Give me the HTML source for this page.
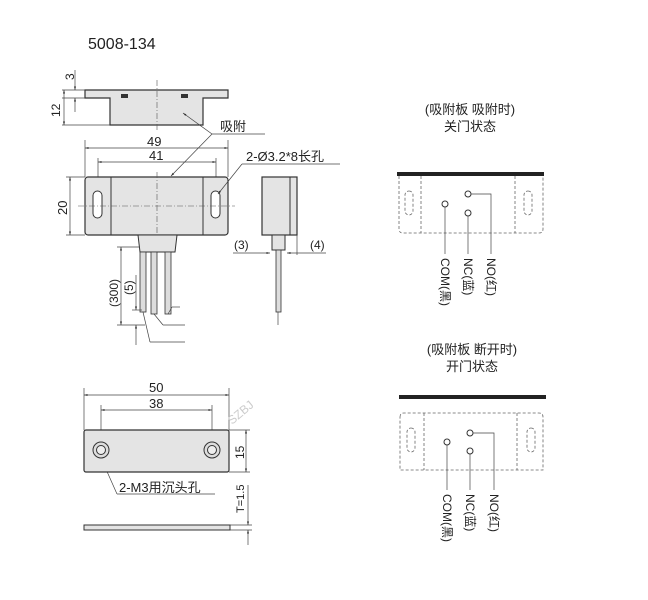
<!DOCTYPE html>
<html><head><meta charset="utf-8"><style>
html,body{margin:0;padding:0;background:#fff;}
svg{display:block;}
text{font-family:"Liberation Sans","Noto Sans CJK SC",sans-serif;fill:#222;}
</style></head><body>
<svg width="648" height="600" viewBox="0 0 648 600" xmlns="http://www.w3.org/2000/svg">
<defs>
<marker id="a" viewBox="0 0 10 10" refX="10" refY="5" markerWidth="7" markerHeight="5" orient="auto-start-reverse"><path d="M0,2 L10,5 L0,8 z" fill="#333"/></marker>
</defs>
<text x="88" y="49" font-size="16">5008-134</text>

<!-- top view -->
<path d="M85,90 H228 V98 H203 V125 H110 V98 H85 Z" fill="#e4e4e4" stroke="#333" stroke-width="1.2"/>
<rect x="121" y="94" width="7" height="4" fill="#333"/>
<rect x="181" y="94" width="7" height="4" fill="#333"/>
<line x1="157" y1="80" x2="157" y2="130" stroke="#555" stroke-width="0.6" stroke-dasharray="6,2,1,2"/>
<g stroke="#444" stroke-width="0.7" fill="none">
<line x1="62" y1="90" x2="85" y2="90"/><line x1="62" y1="98" x2="85" y2="98"/><line x1="62" y1="125" x2="110" y2="125"/>
<line x1="75" y1="70" x2="75" y2="90" marker-end="url(#a)"/><line x1="75" y1="112" x2="75" y2="98" marker-end="url(#a)"/>
<line x1="64" y1="90" x2="64" y2="125" marker-start="url(#a)" marker-end="url(#a)"/>
</g>
<text x="0" y="0" font-size="12" transform="translate(74,80) rotate(-90)">3</text>
<text x="0" y="0" font-size="12" transform="translate(60,117) rotate(-90)">12</text>
<g stroke="#444" stroke-width="0.7" fill="none">
<line x1="212" y1="134" x2="183" y2="113" marker-end="url(#a)"/>
<line x1="212" y1="134" x2="171" y2="176" marker-end="url(#a)"/>
<line x1="212" y1="134" x2="265" y2="134"/>
</g>
<text x="220" y="131" font-size="13">吸附</text>

<!-- front view -->
<g stroke="#444" stroke-width="0.7" fill="none">
<line x1="85" y1="140" x2="85" y2="177"/><line x1="228" y1="140" x2="228" y2="177"/>
<line x1="98" y1="158" x2="98" y2="192"/><line x1="216" y1="158" x2="216" y2="192"/>
<line x1="85" y1="148" x2="228" y2="148" marker-start="url(#a)" marker-end="url(#a)"/>
<line x1="98" y1="162" x2="216" y2="162" marker-start="url(#a)" marker-end="url(#a)"/>
<line x1="66" y1="177" x2="85" y2="177"/><line x1="66" y1="235" x2="85" y2="235"/>
<line x1="70" y1="177" x2="70" y2="235" marker-start="url(#a)" marker-end="url(#a)"/>
</g>
<text x="147" y="146" font-size="13">49</text>
<text x="149" y="160" font-size="13">41</text>
<text x="0" y="0" font-size="13" transform="translate(67,215) rotate(-90)">20</text>
<rect x="85" y="177" width="143" height="58" rx="3" fill="#e4e4e4" stroke="#333" stroke-width="1.2"/>
<line x1="111" y1="177" x2="111" y2="235" stroke="#333"/><line x1="203" y1="177" x2="203" y2="235" stroke="#333"/>
<rect x="93" y="191" width="9" height="27" rx="4.5" fill="#fff" stroke="#333"/>
<rect x="211" y="191" width="9" height="27" rx="4.5" fill="#fff" stroke="#333"/>
<line x1="78" y1="206" x2="235" y2="206" stroke="#555" stroke-width="0.6" stroke-dasharray="6,2,1,2"/>
<line x1="157" y1="172" x2="157" y2="240" stroke="#555" stroke-width="0.6" stroke-dasharray="6,2,1,2"/>
<g stroke="#444" stroke-width="0.7" fill="none">
<line x1="242" y1="164" x2="218" y2="194" marker-end="url(#a)"/><line x1="242" y1="164" x2="340" y2="164"/>
</g>
<text x="246" y="161" font-size="13">2-Ø3.2*8长孔</text>
<path d="M138,235 H177 L175,252 H140 Z" fill="#e4e4e4" stroke="#333"/>
<g fill="#ddd" stroke="#333" stroke-width="0.8">
<rect x="140" y="252" width="6" height="60"/><rect x="151" y="252" width="6" height="62"/><rect x="165" y="252" width="6" height="62"/>
</g>
<g stroke="#444" stroke-width="0.7" fill="none">
<line x1="143" y1="312" x2="150" y2="342"/><line x1="154" y1="314" x2="163" y2="325"/><line x1="168" y1="314" x2="172" y2="307"/>
<line x1="150" y1="342" x2="185" y2="342"/><line x1="163" y1="325" x2="185" y2="325"/><line x1="172" y1="307" x2="180" y2="307"/>
<line x1="117" y1="247" x2="140" y2="247"/><line x1="117" y1="325" x2="145" y2="325"/>
<line x1="121" y1="247" x2="121" y2="325" marker-start="url(#a)" marker-end="url(#a)"/>
<line x1="136" y1="275" x2="136" y2="310" marker-end="url(#a)"/><line x1="136" y1="345" x2="136" y2="325" marker-end="url(#a)"/>
<line x1="132" y1="310" x2="142" y2="310"/>
</g>
<text x="0" y="0" font-size="12" transform="translate(118,307) rotate(-90)">(300)</text>
<text x="0" y="0" font-size="12" transform="translate(133,295) rotate(-90)">(5)</text>

<!-- side view -->
<rect x="262" y="177" width="35" height="58" fill="#e4e4e4" stroke="#333" stroke-width="1.2"/>
<line x1="290" y1="177" x2="290" y2="235" stroke="#333"/>
<rect x="272" y="235" width="13" height="15" fill="#e4e4e4" stroke="#333"/>
<rect x="276" y="250" width="5" height="62" fill="#ddd" stroke="#333" stroke-width="0.8"/>
<line x1="278" y1="312" x2="278" y2="325" stroke="#444" stroke-width="0.7"/>
<g stroke="#444" stroke-width="0.7" fill="none">
<line x1="233" y1="253" x2="270" y2="253" marker-end="url(#a)"/><line x1="326" y1="253" x2="287" y2="253" marker-end="url(#a)"/>
<line x1="297" y1="235" x2="297" y2="255"/>
</g>
<text x="234" y="249" font-size="12">(3)</text>
<text x="310" y="249" font-size="12">(4)</text>

<!-- bottom left -->
<g stroke="#444" stroke-width="0.7" fill="none">
<line x1="84" y1="388" x2="84" y2="430"/><line x1="229" y1="388" x2="229" y2="430"/>
<line x1="101" y1="405" x2="101" y2="445"/><line x1="212" y1="405" x2="212" y2="445"/>
<line x1="84" y1="395" x2="229" y2="395" marker-start="url(#a)" marker-end="url(#a)"/>
<line x1="101" y1="410" x2="212" y2="410" marker-start="url(#a)" marker-end="url(#a)"/>
<line x1="229" y1="430" x2="250" y2="430"/><line x1="229" y1="472" x2="250" y2="472"/>
<line x1="246" y1="430" x2="246" y2="472" marker-start="url(#a)" marker-end="url(#a)"/>
<line x1="101" y1="458" x2="117" y2="494"/><line x1="117" y1="494" x2="215" y2="494"/>
<line x1="248" y1="485" x2="248" y2="525" marker-end="url(#a)"/><line x1="248" y1="545" x2="248" y2="530" marker-end="url(#a)"/>
<line x1="230" y1="525" x2="252" y2="525"/><line x1="230" y1="530" x2="252" y2="530"/>
</g>
<text x="149" y="392" font-size="13">50</text>
<text x="149" y="408" font-size="13">38</text>
<text x="0" y="0" font-size="12" transform="translate(244,459) rotate(-90)">15</text>
<text x="0" y="0" font-size="11" transform="translate(244,513) rotate(-90)">T=1.5</text>
<text x="0" y="0" font-size="12" style="fill:#ccc" transform="translate(232,425) rotate(-40)">SZBJ</text>
<rect x="84" y="430" width="145" height="42" rx="2" fill="#e4e4e4" stroke="#333" stroke-width="1.2"/>
<circle cx="101" cy="450" r="8" fill="#ddd" stroke="#333"/><circle cx="101" cy="450" r="4.5" fill="#eee" stroke="#333"/>
<circle cx="212" cy="450" r="8" fill="#ddd" stroke="#333"/><circle cx="212" cy="450" r="4.5" fill="#eee" stroke="#333"/>
<text x="119" y="492" font-size="13">2-M3用沉头孔</text>
<rect x="84" y="525" width="146" height="5" fill="#e4e4e4" stroke="#333"/>

<!-- right top -->
<text x="470" y="114" font-size="13" text-anchor="middle">(吸附板 吸附时)</text>
<text x="470" y="131" font-size="13" text-anchor="middle">关门状态</text>
<rect x="397" y="172" width="147" height="4" fill="#222"/>
<g stroke="#666" stroke-width="0.8" fill="none" stroke-dasharray="3,2">
<path d="M399,176 V229 Q399,233 403,233 H539 Q543,233 543,229 V176"/>
<line x1="421" y1="176" x2="421" y2="233"/><line x1="515" y1="176" x2="515" y2="233"/>
<rect x="405" y="191" width="8" height="24" rx="4"/><rect x="524" y="191" width="8" height="24" rx="4"/>
</g>
<g stroke="#333" stroke-width="1" fill="#fff">
<circle cx="445" cy="204" r="3"/><circle cx="468" cy="194" r="3"/><circle cx="468" cy="213" r="3"/>
</g>
<g stroke="#444" stroke-width="0.7" fill="none">
<line x1="445" y1="207" x2="445" y2="254"/><line x1="468" y1="216" x2="468" y2="254"/>
<polyline points="471,194 491,194 491,254"/>
</g>
<text font-size="12" transform="translate(441,258) rotate(90)">COM(黑)</text>
<text font-size="12" transform="translate(464,258) rotate(90)">NC(蓝)</text>
<text font-size="12" transform="translate(487,258) rotate(90)">NO(红)</text>

<!-- right bottom -->
<text x="472" y="354" font-size="13" text-anchor="middle">(吸附板 断开时)</text>
<text x="472" y="371" font-size="13" text-anchor="middle">开门状态</text>
<rect x="399" y="395" width="147" height="4" fill="#222"/>
<g stroke="#666" stroke-width="0.8" fill="none" stroke-dasharray="3,2">
<path d="M400,417 Q400,413 404,413 H539 Q543,413 543,417 V470 H400 Z"/>
<line x1="424" y1="413" x2="424" y2="470"/><line x1="517" y1="413" x2="517" y2="470"/>
<rect x="407" y="428" width="8" height="24" rx="4"/><rect x="527" y="428" width="8" height="24" rx="4"/>
</g>
<g stroke="#333" stroke-width="1" fill="#fff">
<circle cx="447" cy="442" r="3"/><circle cx="470" cy="433" r="3"/><circle cx="470" cy="451" r="3"/>
</g>
<g stroke="#444" stroke-width="0.7" fill="none">
<line x1="447" y1="445" x2="447" y2="490"/><line x1="470" y1="454" x2="470" y2="490"/>
<polyline points="473,433 494,433 494,490"/>
</g>
<text font-size="12" transform="translate(443,494) rotate(90)">COM(黑)</text>
<text font-size="12" transform="translate(466,494) rotate(90)">NC(蓝)</text>
<text font-size="12" transform="translate(490,494) rotate(90)">NO(红)</text>
</svg>
</body></html>
